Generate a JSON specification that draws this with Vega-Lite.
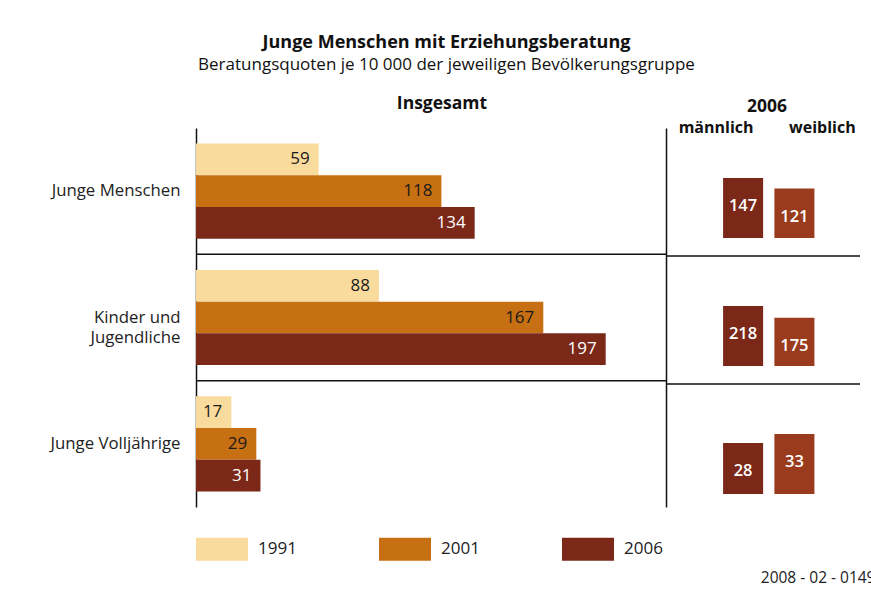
{
  "$schema": "https://vega.github.io/schema/vega-lite/v6.json",
  "background": "white",
  "padding": {"left": 49, "top": 33, "right": 0, "bottom": 0},
  "config": {
    "font": "Open Sans",
    "view": {"stroke": null},
    "concat": {"spacing": 0}
  },
  "title": {
    "text": "Junge Menschen mit Erziehungsberatung",
    "subtitle": "Beratungsquoten je 10 000 der jeweiligen Bevölkerungsgruppe",
    "anchor": "middle",
    "dx": -16,
    "fontSize": 18,
    "fontWeight": "bold",
    "color": "#111111",
    "subtitleFontSize": 17,
    "subtitleColor": "#111111",
    "subtitlePadding": 5,
    "offset": 22
  },
  "datasets": {
    "totals": [
      {"cat": "Junge Menschen", "year": "1991", "value": 59},
      {"cat": "Junge Menschen", "year": "2001", "value": 118},
      {"cat": "Junge Menschen", "year": "2006", "value": 134},
      {"cat": "Kinder und Jugendliche", "year": "1991", "value": 88},
      {"cat": "Kinder und Jugendliche", "year": "2001", "value": 167},
      {"cat": "Kinder und Jugendliche", "year": "2006", "value": 197},
      {"cat": "Junge Volljährige", "year": "1991", "value": 17},
      {"cat": "Junge Volljährige", "year": "2001", "value": 29},
      {"cat": "Junge Volljährige", "year": "2006", "value": 31}
    ],
    "sex": [
      {"cat": "Junge Menschen", "sex": "männlich", "value": 147},
      {"cat": "Junge Menschen", "sex": "weiblich", "value": 121},
      {"cat": "Kinder und Jugendliche", "sex": "männlich", "value": 218},
      {"cat": "Kinder und Jugendliche", "sex": "weiblich", "value": 175},
      {"cat": "Junge Volljährige", "sex": "männlich", "value": 28},
      {"cat": "Junge Volljährige", "sex": "weiblich", "value": 33}
    ]
  },
  "spacing": 0,
  "bounds": "flush",
  "hconcat": [
    {
      "width": 470,
      "height": 379,
      "data": {"name": "totals"},
      "title": {"text": "Insgesamt", "fontSize": 17.5, "fontWeight": "bold", "color": "#111111", "anchor": "middle", "baseline": "alphabetic", "offset": 2, "dx": 11},
      "resolve": {"axis": {"y": "independent"}},
      "layer": [
        {
          "mark": {"type": "bar"},
          "encoding": {
            "y": {
              "field": "cat", "type": "nominal",
              "sort": ["Junge Menschen", "Kinder und Jugendliche", "Junge Volljährige"],
              "scale": {"paddingInner": 0, "paddingOuter": 0},
              "axis": {
                "title": null, "ticks": false, "domainColor": "#111111", "domainWidth": 1.5,
                "labelFontSize": 16.8, "labelColor": "#222222", "labelPadding": 16, "labelLimit": 300,
                "labelLineHeight": 20,
                "labelExpr": "datum.label == 'Kinder und Jugendliche' ? ['Kinder und', 'Jugendliche'] : datum.label"
              }
            },
            "yOffset": {"field": "year", "type": "nominal", "scale": {"paddingOuter": 0.49, "paddingInner": 0}},
            "x": {
              "field": "value", "type": "quantitative",
              "scale": {"domain": [0, 226], "nice": false},
              "axis": {
                "labels": false, "ticks": false, "domain": false, "grid": false,
                "title": "2008 - 02 - 0149", "titleFontWeight": "normal", "titleFontSize": 15.5,
                "titleColor": "#222222", "titleAnchor": "end", "titleAlign": "right",
                "titleX": 679, "titleY": 75, "titleBaseline": "alphabetic"
              }
            },
            "color": {
              "field": "year", "type": "nominal",
              "scale": {"domain": ["1991", "2001", "2006"], "range": ["#F9DB9D", "#C76F13", "#7B2819"]},
              "legend": {
                "title": null, "orient": "none", "legendX": 0, "legendY": 395,
                "direction": "horizontal",
                "symbolType": "M-1,-0.44H1V0.44H-1Z", "symbolSize": 2704, "symbolStrokeWidth": 0,
                "labelFontSize": 17, "labelColor": "#222222", "labelOffset": 10, "columnPadding": 82
              }
            }
          }
        },
        {
          "mark": {"type": "text", "align": "right", "baseline": "middle", "dx": -9, "fontSize": 17},
          "encoding": {
            "y": {"field": "cat", "type": "nominal", "sort": ["Junge Menschen", "Kinder und Jugendliche", "Junge Volljährige"], "axis": null},
            "yOffset": {"field": "year", "type": "nominal"},
            "x": {"field": "value", "type": "quantitative"},
            "text": {"field": "value", "type": "quantitative"},
            "color": {"condition": {"test": "datum.year == '2006'", "value": "white"}, "value": "#1a1a1a"}
          }
        },
        {
          "mark": {"type": "rule", "color": "#111111", "strokeWidth": 1.5},
          "transform": [{"filter": "datum.year == '2006' && datum.cat != 'Junge Menschen'"}],
          "encoding": {
            "y": {
              "field": "cat", "type": "nominal", "bandPosition": 0,
              "sort": ["Junge Menschen", "Kinder und Jugendliche", "Junge Volljährige"],
              "axis": {"orient": "right", "labels": false, "ticks": false, "title": null, "domainColor": "#111111", "domainWidth": 1.5}
            }
          }
        }
      ]
    },
    {
      "data": {"name": "sex"},
      "title": {"text": "2006", "fontSize": 17.5, "fontWeight": "bold", "color": "#111111", "anchor": "middle", "baseline": "alphabetic", "offset": -10, "dx": 4},
      "facet": {
        "row": {
          "field": "cat", "type": "nominal",
          "sort": ["Junge Menschen", "Kinder und Jugendliche", "Junge Volljährige"],
          "header": {"title": null, "labels": false}
        }
      },
      "spacing": {"row": 0},
      "resolve": {"scale": {"y": "independent"}},
      "spec": {
        "width": 194,
        "height": 126.333,
        "layer": [
          {
            "mark": {"type": "rule", "color": "#111111", "strokeWidth": 1.5},
            "transform": [{"filter": "datum.cat != 'Junge Menschen' && datum.sex == 'männlich'"}],
            "encoding": {"y": {"value": 0}}
          },
          {
            "mark": {"type": "bar"},
            "encoding": {
              "x": {
                "field": "sex", "type": "nominal", "sort": ["männlich", "weiblich"],
                "scale": {"paddingInner": 0.22, "paddingOuter": 1.125, "align": 0.556},
                "axis": {
                  "orient": "top", "title": null, "domain": false, "ticks": false,
                  "labelAngle": 0, "labelFontSize": 16, "labelFontWeight": "bold", "labelColor": "#111111",
                  "labelBaseline": "alphabetic", "labelPadding": -4,
                  "labelOffset": {"condition": {"test": "datum.value == 'männlich'", "value": -27}, "value": 28}
                }
              },
              "y": {"field": "value", "type": "quantitative", "scale": {"range": [110, 50], "nice": false, "zero": true}, "axis": null},
              "fill": {"field": "sex", "type": "nominal", "scale": {"domain": ["männlich", "weiblich"], "range": ["#7B2819", "#9A3B1D"]}, "legend": null}
            }
          },
          {
            "mark": {"type": "text", "baseline": "middle", "dy": 28, "fontSize": 16.5, "fontWeight": 600, "color": "white"},
            "encoding": {
              "x": {"field": "sex", "type": "nominal", "sort": ["männlich", "weiblich"]},
              "y": {"field": "value", "type": "quantitative"},
              "text": {"field": "value", "type": "quantitative"}
            }
          }
        ]
      }
    }
  ]
}
